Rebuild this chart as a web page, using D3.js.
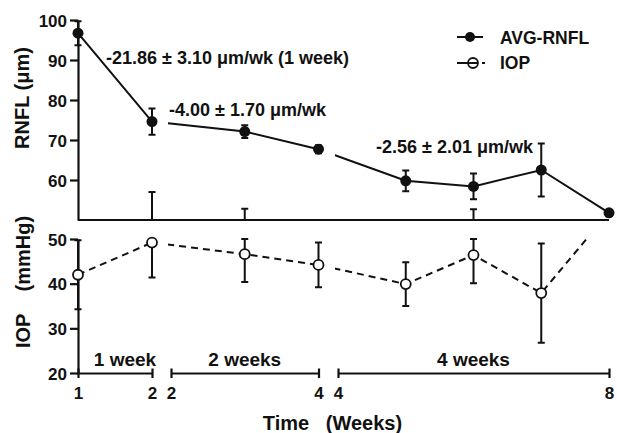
<!DOCTYPE html>
<html>
<head>
<meta charset="utf-8">
<script src="https://cdn.jsdelivr.net/npm/d3@7"></script>
<style>
body { margin: 0; background: #fff; }
text { font-family: "Liberation Sans", Arial, sans-serif; font-weight: bold; fill: #111; }
</style>
</head>
<body>
<div id="playground"></div>
<script>
// Data
var weeks = [1, 2, 3, 4, 5, 6, 7, 8]
var rnflMean = [96.7, 74.6, 72.1, 67.7, 59.8, 58.4, 62.5, 51.8]
var rnflSd = [3.0, 3.3, 1.6, 1.0, 2.6, 3.2, 6.6, 0]
var iopMean = [42.0, 49.2, 46.6, 44.2, 39.9, 46.4, 37.9, 56.0]
var iopSd = [7.7, 7.8, 6.2, 5.0, 4.9, 6.3, 11.1, 0]

var sectionDomains = [[1, 2], [2, 4], [4, 8]]
var sectionLabels = ['1 week', '2 weeks', '4 weeks']
var rnflTicks = [60, 70, 80, 90, 100]
var iopTicks = [20, 30, 40, 50]
var slopeLabels = ['-21.86 ± 3.10 μm/wk (1 week)', '-4.00 ± 1.70 μm/wk', '-2.56 ± 2.01 μm/wk']
var seriesNames = ['AVG-RNFL', 'IOP']

var settings = {}
settings.width = 617
settings.height = 433
settings.section_ranges = [[78, 152], [171, 318.5], [338, 609]]
settings.rnfl_range = [220, 20]
settings.iop_range = [373, 239]
settings.axis_width = 2.2
settings.line_width = 2
settings.cap = 3.5
settings.marker_r = 5.5
settings.tick_font = 17
settings.text_font = 18
settings.legend_font = 17.5
settings.section_font = 19
settings.title_font = 20

var svg = d3.select('#playground').append('svg')
	.attr('width', settings.width)
	.attr('height', settings.height)

// Scales
var xSections = sectionDomains.map(function(d, i){
	return d3.scaleLinear().domain(d).range(settings.section_ranges[i])
})
function xPos(w) {
	var i = sectionDomains.findIndex(function(d){ return w >= d[0] && w <= d[1] })
	return xSections[i](w)
}
var yR = d3.scaleLinear().domain([50, 100]).range(settings.rnfl_range)
var yI = d3.scaleLinear().domain([20, 50]).range(settings.iop_range)

var x0 = xSections[0].range()[0]
var xEnd = xSections[2].range()[1]

// Clip paths: lines are hidden in the gaps between x sections
var defs = svg.append('defs')
function makeClip(id, y0, y1) {
	var cp = defs.append('clipPath').attr('id', id)
	xSections.forEach(function(s, i){
		var r = s.range()
		var a = i === 0 ? 0 : r[0] - 3
		var b = i === xSections.length - 1 ? settings.width : r[1] + 3
		cp.append('rect').attr('x', a).attr('y', y0).attr('width', b - a).attr('height', y1 - y0)
	})
}
makeClip('clip-rnfl', 0, yR(50) + 1)
makeClip('clip-iop', yI(50), settings.height)

var rnfl = weeks.map(function(w, i){ return {w: w, m: rnflMean[i], sd: rnflSd[i]} })
var iop = weeks.map(function(w, i){ return {w: w, m: iopMean[i], sd: iopSd[i]} })

// Axes - top panel
var gTop = svg.append('g').attr('transform', 'translate(' + x0 + ',0)')
	.call(d3.axisLeft(yR).tickValues(rnflTicks).tickSize(8).tickSizeOuter(0).tickPadding(3))
svg.append('line')
	.attr('x1', x0).attr('x2', xEnd)
	.attr('y1', yR(50)).attr('y2', yR(50))
	.attr('stroke', '#111').attr('stroke-width', settings.axis_width)

// Axes - bottom panel
var gBot = svg.append('g').attr('transform', 'translate(' + x0 + ',0)')
	.call(d3.axisLeft(yI).tickValues(iopTicks).tickSize(8).tickSizeOuter(0).tickPadding(3))

;[gTop, gBot].forEach(function(g){
	g.select('.domain').attr('stroke', '#111').attr('stroke-width', settings.axis_width)
	g.selectAll('.tick line').attr('stroke', '#111').attr('stroke-width', settings.axis_width)
	g.selectAll('.tick text')
		.attr('font-size', settings.tick_font)
		.attr('font-family', null)
		.attr('dy', '0.36em')
})

// Segmented x axis
xSections.forEach(function(s, i){
	var g = svg.append('g').attr('transform', 'translate(0,' + yI(20) + ')')
		.call(d3.axisBottom(s).tickValues(sectionDomains[i]).tickFormat(d3.format('d')).tickSizeInner(5).tickSizeOuter(0))
	g.select('.domain').attr('stroke', '#111').attr('stroke-width', settings.axis_width)
	g.selectAll('.tick line')
		.attr('y1', -4.5).attr('y2', 5)
		.attr('stroke', '#111').attr('stroke-width', settings.axis_width)
	g.selectAll('.tick text')
		.attr('font-size', settings.tick_font)
		.attr('font-family', null)
		.attr('y', 14)
	var r = s.range()
	svg.append('text')
		.attr('x', (r[0] + r[1]) / 2 + (i === 0 ? 10 : 0))
		.attr('y', yI(20) - 7)
		.attr('text-anchor', 'middle')
		.attr('font-size', settings.section_font)
		.text(sectionLabels[i])
})

// Axis titles
svg.append('text')
	.attr('transform', 'translate(29,' + ((yR(100) + yR(50)) / 2 - 22) + ') rotate(-90)')
	.attr('text-anchor', 'middle')
	.attr('font-size', settings.title_font)
	.text('RNFL (μm)')
svg.append('text')
	.attr('transform', 'translate(30,' + ((yI(20) + yI(50)) / 2 - 24) + ') rotate(-90)')
	.attr('text-anchor', 'middle')
	.attr('font-size', settings.title_font)
	.text('IOP\u00A0\u00A0\u00A0\u00A0(mmHg)')
svg.append('text')
	.attr('x', (xSections[1].range()[0] + xSections[2].range()[0]) / 2 + 78)
	.attr('y', 430)
	.attr('text-anchor', 'middle')
	.attr('font-size', settings.title_font)
	.text('Time\u00A0\u00A0\u00A0(Weeks)')

// Lines
var line = function(y){
	return d3.line().x(function(d){ return xPos(d.w) }).y(function(d){ return y(d.m) })
}
svg.append('path')
	.datum(rnfl)
	.attr('d', line(yR))
	.attr('clip-path', 'url(#clip-rnfl)')
	.attr('fill', 'none').attr('stroke', '#111').attr('stroke-width', settings.line_width)
svg.append('path')
	.datum(iop)
	.attr('d', line(yI))
	.attr('clip-path', 'url(#clip-iop)')
	.attr('fill', 'none').attr('stroke', '#111').attr('stroke-width', settings.line_width)
	.attr('stroke-dasharray', '7,5')

// Error bars
function errorBar(x, yTop, yBottom, capTop, capBottom) {
	var p = d3.path()
	p.moveTo(x, yTop); p.lineTo(x, yBottom)
	if (capTop) { p.moveTo(x - settings.cap, yTop); p.lineTo(x + settings.cap, yTop) }
	if (capBottom) { p.moveTo(x - settings.cap, yBottom); p.lineTo(x + settings.cap, yBottom) }
	svg.append('path').attr('d', p.toString())
		.attr('fill', 'none').attr('stroke', '#111').attr('stroke-width', settings.line_width)
}
rnfl.forEach(function(d){
	if (d.sd > 0) errorBar(xPos(d.w), yR(d.m + d.sd), yR(d.m - d.sd), true, true)
})
// IOP bars cross the axis break: the part above 50 goes to the upper panel
iop.forEach(function(d){
	if (d.sd <= 0) return
	var hi = d.m + d.sd, lo = d.m - d.sd
	errorBar(xPos(d.w), yI(Math.min(hi, 50)), yI(lo), true, true)
	if (hi > 50) errorBar(xPos(d.w), yR(hi), yR(50), true, false)
})

// Markers
svg.selectAll('.rnfl-dot').data(rnfl).enter().append('circle')
	.attr('cx', function(d){ return xPos(d.w) })
	.attr('cy', function(d){ return yR(d.m) })
	.attr('r', settings.marker_r)
	.attr('fill', '#111')
svg.selectAll('.iop-dot').data(iop.filter(function(d){ return d.m <= 50 })).enter().append('circle')
	.attr('cx', function(d){ return xPos(d.w) })
	.attr('cy', function(d){ return yI(d.m) })
	.attr('r', settings.marker_r - 0.5)
	.attr('fill', '#fff').attr('stroke', '#111').attr('stroke-width', 1.8)

// Slope annotations
var slopePos = [
	{x: xSections[0](1) + 28, y: yR(89)},
	{x: xSections[1](2) - 2, y: yR(76)},
	{x: xSections[2](4) + 38, y: yR(66.8)}
]
slopeLabels.forEach(function(t, i){
	svg.append('text')
		.attr('x', slopePos[i].x).attr('y', slopePos[i].y)
		.attr('font-size', settings.text_font)
		.text(t)
})

// Legend
var lg = svg.append('g').attr('transform', 'translate(457,0)')
lg.append('line').attr('x1', 0).attr('x2', 26).attr('y1', 37).attr('y2', 37)
	.attr('stroke', '#111').attr('stroke-width', settings.line_width)
lg.append('circle').attr('cx', 13).attr('cy', 37).attr('r', 5).attr('fill', '#111')
lg.append('line').attr('x1', 0).attr('x2', 29).attr('y1', 63).attr('y2', 63)
	.attr('stroke', '#111').attr('stroke-width', settings.line_width)
	.attr('stroke-dasharray', '21,4,3')
lg.append('circle').attr('cx', 16).attr('cy', 63).attr('r', 5)
	.attr('fill', 'none').attr('stroke', '#111').attr('stroke-width', 1.8)
seriesNames.forEach(function(n, i){
	lg.append('text')
		.attr('x', 43).attr('y', 44 + i * 25)
		.attr('font-size', settings.legend_font)
		.text(n)
})
</script>
</body>
</html>
